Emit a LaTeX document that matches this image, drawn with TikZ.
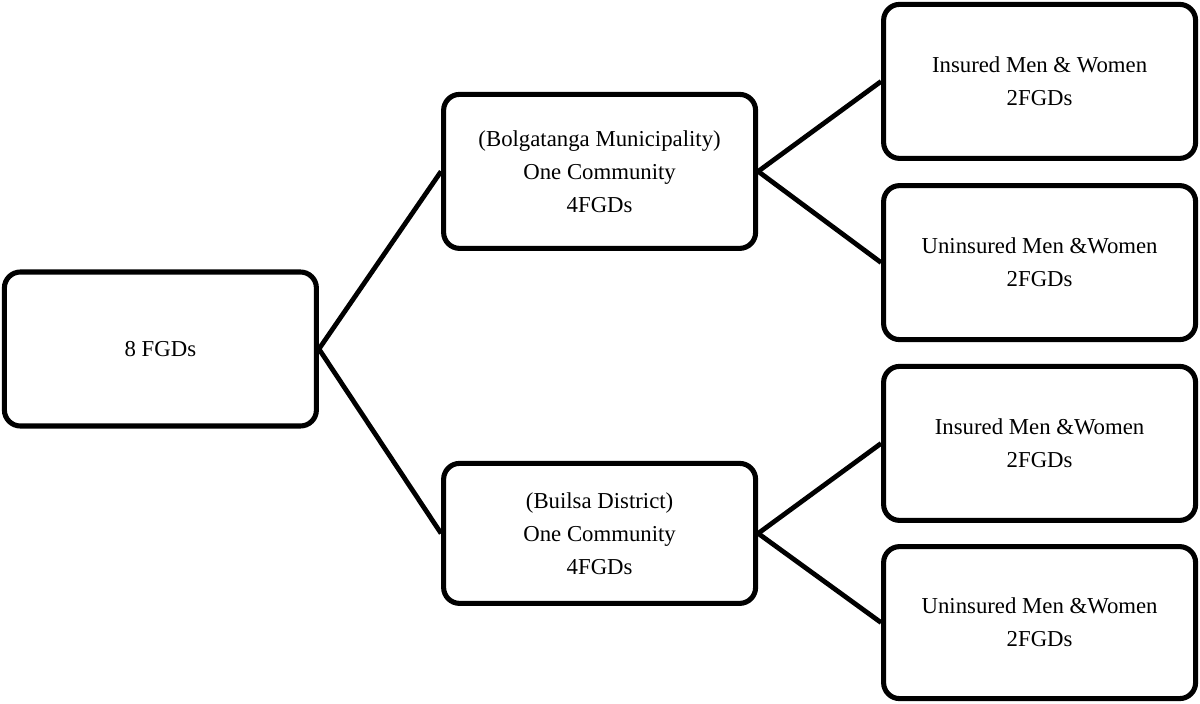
\documentclass[tikz,border=0pt]{standalone}
\usepackage{fontspec}
\setmainfont{Liberation Serif}
\usetikzlibrary{positioning}

\tikzset{
  fgdbox/.style={draw, line width=3.6pt, rounded corners=0.4cm, align=center,
    minimum width=7.8cm, font=\fontsize{16.2}{23.5}\selectfont},
  link/.style={line width=3.4pt}
}

\begin{document}
\begin{tikzpicture}
\useasboundingbox (0,0) rectangle (30,17.575);

\node[fgdbox, minimum height=3.85cm] (root) at (4.01,8.85) {8 FGDs};

\node[fgdbox, minimum height=3.85cm] (bolga) at (14.99,13.29) {(Bolgatanga Municipality)\\One Community\\4FGDs};
\node[fgdbox, minimum height=3.5cm] (builsa) at (14.99,4.24) {(Builsa District)\\One Community\\4FGDs};

\node[fgdbox, minimum height=3.85cm] (bins) at (25.99,15.54) {Insured Men \& Women\\2FGDs};
\node[fgdbox, minimum height=3.85cm] (bunins) at (25.99,11.01) {Uninsured Men \&Women\\2FGDs};
\node[fgdbox, minimum height=3.85cm] (uins) at (25.99,6.49) {Insured Men \&Women\\2FGDs};
\node[fgdbox, minimum height=3.8cm] (uunins) at (25.99,2.01) {Uninsured Men \&Women\\2FGDs};

%\draw[very thin,color=gray] (0,0) grid (30,17);
\draw[link] (root.east) -- (bolga.west);
\draw[link] (root.east) -- (builsa.west);
\draw[link] (bolga.east) -- (bins.west);
\draw[link] (bolga.east) -- (bunins.west);
\draw[link] (builsa.east) -- (uins.west);
\draw[link] (builsa.east) -- (uunins.west);
\end{tikzpicture}
\end{document}
